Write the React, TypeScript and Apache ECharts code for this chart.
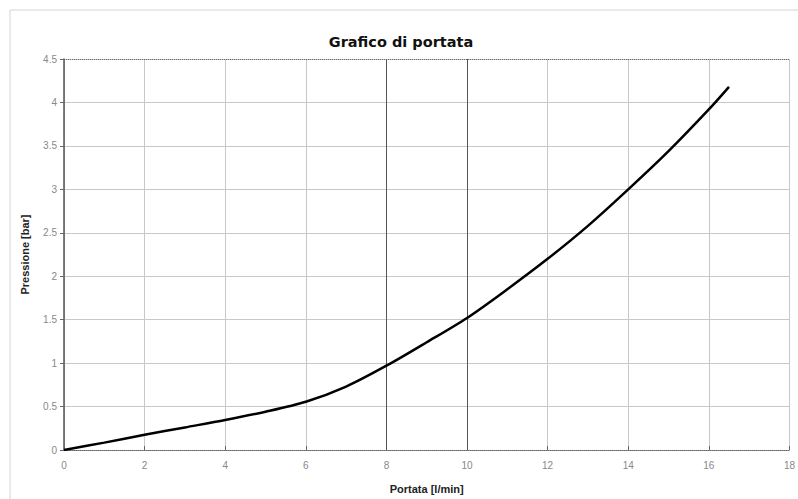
import React, { useEffect, useRef } from "react";
import * as echarts from "echarts";

const flowValues = [0, 1, 2, 3, 4, 5, 6, 7, 8, 9, 10, 11, 12, 13, 14, 15, 16, 16.5];
const pressureValues = [0, 0.085, 0.175, 0.26, 0.345, 0.44, 0.555, 0.73, 0.97, 1.24, 1.52, 1.85, 2.2, 2.58, 3.0, 3.44, 3.92, 4.18];
const darkGridX = [8, 10];
const titleText = "Grafico di portata";
const xName = "Portata [l/min]";
const yName = "Pressione [bar]";

export default function App() {
  const ref = useRef<HTMLDivElement>(null);
  useEffect(() => {
    if (!ref.current) return;
    const chart = echarts.init(ref.current, null, { renderer: "svg" });
    const font = "'Liberation Sans', Arial, sans-serif";
    chart.setOption({
      animation: false,
      backgroundColor: "#ffffff",
      textStyle: { fontFamily: font },
      title: {
        text: titleText,
        left: 396,
        top: 29,
        textAlign: "center",
        textStyle: { fontFamily: "'DejaVu Sans', Verdana, sans-serif", fontSize: 14.5, fontWeight: "bold", color: "#111" },
      },
      graphic: [
        {
          type: "rect",
          shape: { x: 10, y: 10, width: 800, height: 500 },
          style: { fill: "none", stroke: "#d4d4d4", lineWidth: 1 },
          silent: true,
          z: -10,
        },
      ],
      grid: { left: 64, right: 8, top: 59, bottom: 47 },
      xAxis: {
        type: "value",
        min: 0,
        max: 18,
        interval: 2,
        name: xName,
        nameLocation: "middle",
        nameGap: 33,
        nameTextStyle: { fontFamily: font, fontSize: 11, fontWeight: "bold", color: "#222" },
        axisLine: { show: true, onZero: false, lineStyle: { color: "#666", type: "dotted", width: 1 } },
        axisTick: { show: true, length: 4, inside: true, lineStyle: { color: "#666" } },
        axisLabel: { fontFamily: font, fontSize: 10, color: "#888", margin: 10 },
        splitLine: { show: true, lineStyle: { color: "#c8c8c8", width: 1 } },
      },
      yAxis: {
        type: "value",
        min: 0,
        max: 4.5,
        interval: 0.5,
        name: yName,
        nameLocation: "middle",
        nameGap: 34,
        nameTextStyle: { fontFamily: font, fontSize: 11, fontWeight: "bold", color: "#222" },
        axisLine: { show: true, lineStyle: { color: "#555", width: 1.5 } },
        axisTick: { show: true, length: 4, lineStyle: { color: "#666" } },
        axisLabel: { fontFamily: font, fontSize: 10, color: "#888", margin: 7 },
        splitLine: { show: true, lineStyle: { color: "#c8c8c8", width: 1 } },
      },
      series: [
        {
          type: "line",
          data: flowValues.map((x, i) => [x, pressureValues[i]]),
          smooth: 0.3,
          showSymbol: false,
          lineStyle: { color: "#000", width: 2.5 },
          z: 5,
          markLine: {
            silent: true,
            symbol: "none",
            label: { show: false },
            data: [
              ...darkGridX.map((v) => ({ xAxis: v, lineStyle: { color: "#555", width: 1, type: "solid" } })),
              { yAxis: 4.5, lineStyle: { color: "#666", width: 1, type: "dotted" } },
            ],
          },
        },
      ],
    });
    return () => chart.dispose();
  }, []);
  return (
    <div
      ref={ref}
      style={{ position: "fixed", left: 0, top: 0, width: 798, height: 499 }}
    />
  );
}
